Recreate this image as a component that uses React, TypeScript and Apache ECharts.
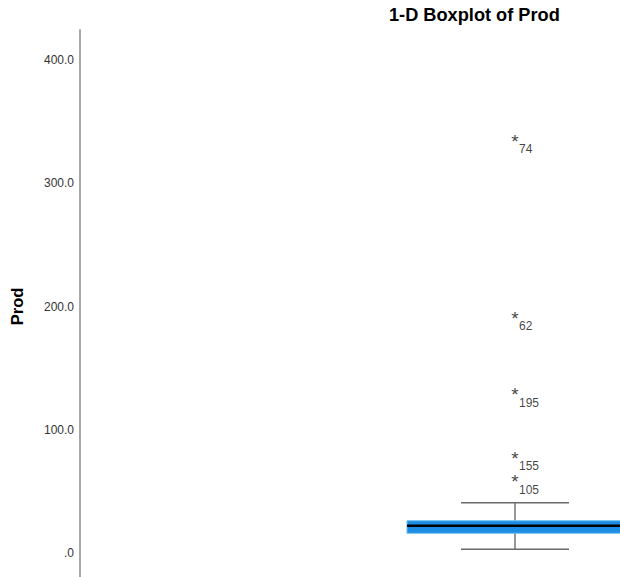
import React, { useEffect, useRef } from "react";
import * as echarts from "echarts";

const categories = ["Prod"];
// [lower whisker, Q1, median, Q3, upper whisker]
const boxStats = [3.0, 16.0, 22.1, 26.2, 40.8];
const outlierValues = [338.3, 194.7, 132.3, 81.1, 61.7];
const outlierIds = ["74", "62", "195", "155", "105"];
const yTicks = { min: 0, max: 400, interval: 100 };

const FONT = "'Liberation Sans', Arial, sans-serif";

export default function App() {
  const ref = useRef<HTMLDivElement>(null);
  useEffect(() => {
    if (!ref.current) return;
    const chart = echarts.init(ref.current, null, { renderer: "svg" });
    const catIndex = 0; // position of the single category "Prod" on the x scale
    const outlierData = outlierValues.map((v, i) => ({ value: [catIndex, v], name: outlierIds[i] }));
    chart.setOption({
      animation: false,
      backgroundColor: "#ffffff",
      title: {
        text: "1-D Boxplot of Prod",
        left: 384,
        top: 1,
        textStyle: { fontFamily: FONT, fontSize: 18.2, fontWeight: "bold", color: "#000" },
      },
      grid: [
        { left: 80, top: 30, width: 10, height: 620 },
        { left: 80, top: 60, right: 0, height: 493 },
      ],
      xAxis: [
        { gridIndex: 0, type: "value", show: false },
        { gridIndex: 1, type: "value", min: -4.143, max: 1, show: false, name: categories[0] },
      ],
      yAxis: [
        {
          gridIndex: 0,
          type: "value",
          min: 0,
          max: 1,
          axisLine: { show: true, lineStyle: { color: "#a8a8a8", width: 2 } },
          axisTick: { show: false },
          axisLabel: { show: false },
          splitLine: { show: false },
        },
        {
          gridIndex: 1,
          type: "value",
          min: yTicks.min,
          max: yTicks.max,
          interval: yTicks.interval,
          name: "Prod",
          nameLocation: "middle",
          nameGap: 55,
          nameTextStyle: { fontFamily: FONT, fontSize: 16.5, fontWeight: "bold", color: "#000" },
          axisLine: { show: false },
          axisTick: { show: false },
          splitLine: { show: false },
          axisLabel: {
            margin: 6,
            fontFamily: FONT,
            fontSize: 12,
            color: "#333",
            formatter: (v: number) => (v === 0 ? ".0" : v.toFixed(1)),
          },
        },
      ],
      series: [
        {
          type: "custom",
          xAxisIndex: 1,
          yAxisIndex: 1,
          data: [[catIndex, ...boxStats]],
          renderItem: (params: any, api: any) => {
            const x = api.value(0);
            const lo = api.coord([x, api.value(1)]);
            const q1 = api.coord([x, api.value(2)]);
            const med = api.coord([x, api.value(3)]);
            const q3 = api.coord([x, api.value(4)]);
            const hi = api.coord([x, api.value(5)]);
            const cx = lo[0];
            const bw = 108;
            const cw = 54;
            const wStyle = { stroke: "#6b6b6b", lineWidth: 1.4 };
            return {
              type: "group",
              children: [
                { type: "line", shape: { x1: cx, y1: hi[1], x2: cx, y2: lo[1] }, style: wStyle },
                { type: "line", shape: { x1: cx - cw, y1: hi[1], x2: cx + cw, y2: hi[1] }, style: wStyle },
                { type: "line", shape: { x1: cx - cw, y1: lo[1], x2: cx + cw, y2: lo[1] }, style: wStyle },
                {
                  type: "rect",
                  shape: { x: cx - bw, y: q3[1], width: bw * 2, height: q1[1] - q3[1] },
                  style: { fill: "#1c8de3", stroke: "#6cc0f4", lineWidth: 1 },
                },
                {
                  type: "line",
                  shape: { x1: cx - bw, y1: med[1], x2: cx + bw, y2: med[1] },
                  style: { stroke: "#000", lineWidth: 2.5 },
                },
              ],
            };
          },
        },
        {
          type: "scatter",
          xAxisIndex: 1,
          yAxisIndex: 1,
          symbolSize: 0,
          data: outlierData,
          label: {
            show: true,
            position: "inside",
            offset: [0, 5],
            formatter: "*",
            fontFamily: FONT,
            fontSize: 19,
            color: "#111",
            align: "center",
            verticalAlign: "middle",
          },
        },
        {
          type: "scatter",
          xAxisIndex: 1,
          yAxisIndex: 1,
          symbolSize: 0,
          data: outlierData,
          label: {
            show: true,
            position: [4, 13],
            formatter: (p: any) => p.name,
            fontFamily: FONT,
            fontSize: 12,
            color: "#111",
            align: "left",
            verticalAlign: "middle",
          },
        },
      ],
    });
    return () => chart.dispose();
  }, []);
  return (
    <div
      ref={ref}
      style={{ position: "fixed", left: 0, top: 0, width: 620, height: 577, background: "#fff" }}
    />
  );
}
